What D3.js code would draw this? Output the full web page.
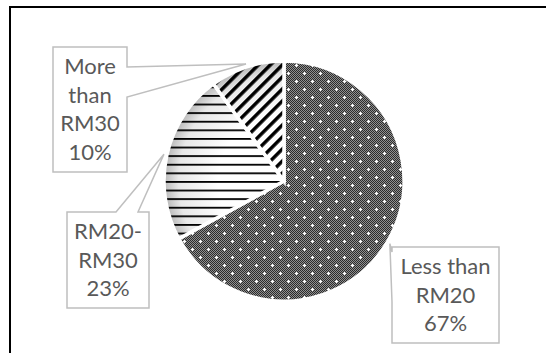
<!DOCTYPE html>
<html>
<head>
<meta charset="utf-8">
<script src="https://cdn.jsdelivr.net/npm/d3@7"></script>
<style>
  html, body { margin: 0; padding: 0; background: #fff; }
  svg { display: block; }
</style>
</head>
<body>
<div id="chart"></div>
<script>
// --- data ---
const categories = ["Less than RM20", "RM20-RM30", "More than RM30"];
const values = [67, 23, 10];
const labelLines = [["Less than", "RM20"], ["RM20-", "RM30"], ["More", "than", "RM30"]];
const fills = ["url(#dots)", "url(#hstripes)", "url(#dstripes)"];

// --- layout ---
const width = 546, height = 353;
const cx = 284, cy = 181, radius = 120;
const lineGap = 28.5;
// callout boxes (x, y, w, h) and which side the pointer leaves from
const boxes = [
  { x: 392, y: 247, w: 107, h: 96, side: "left",  b0: 5,  b1: 55 },
  { x: 67,  y: 212, w: 82,  h: 96, side: "top",   b0: 49, b1: 71 },
  { x: 53,  y: 47,  w: 74,  h: 125, side: "right", b0: 20, b1: 50 }
];
const textColor = "#595959";
const boxStroke = "#bfbfbf";
const fmtPct = d3.format(".0%");

const svg = d3.select("#chart").append("svg")
  .attr("width", width).attr("height", height);

const defs = svg.append("defs");

// dotted checker: dark checker with white plus marks
const tile = 16;
const dots = defs.append("pattern")
  .attr("id", "dots").attr("patternUnits", "userSpaceOnUse")
  .attr("width", tile).attr("height", tile);
dots.append("rect").attr("width", tile).attr("height", tile).attr("fill", "#2b2b2b");
const cells = [];
for (let y = 0; y < tile; y++)
  for (let x = 0; x < tile; x++)
    if ((x + y) % 2 === 0) cells.push([x, y]);
dots.selectAll("rect.c").data(cells).join("rect")
  .attr("class", "c")
  .attr("x", d => d[0]).attr("y", d => d[1])
  .attr("width", 1).attr("height", 1)
  .attr("fill", "#909090")
  .attr("shape-rendering", "crispEdges");
[[4, 4], [12, 12]].forEach(([x, y]) => {
  dots.append("rect").attr("x", x - 1).attr("y", y).attr("width", 3).attr("height", 1).attr("fill", "#fff").attr("shape-rendering", "crispEdges");
  dots.append("rect").attr("x", x).attr("y", y - 1).attr("width", 1).attr("height", 3).attr("fill", "#fff").attr("shape-rendering", "crispEdges");
});

// soft white->grey background behind the line patterns
const grad = defs.append("radialGradient")
  .attr("id", "soft").attr("gradientUnits", "userSpaceOnUse")
  .attr("cx", 0).attr("cy", 0).attr("r", radius);
grad.append("stop").attr("offset", "0.55").attr("stop-color", "#ffffff");
grad.append("stop").attr("offset", "0.88").attr("stop-color", "#e8e8e8");
grad.append("stop").attr("offset", "1").attr("stop-color", "#b8b8b8");

const hs = defs.append("pattern")
  .attr("id", "hstripes").attr("patternUnits", "userSpaceOnUse")
  .attr("width", 20).attr("height", 8.6);
hs.append("rect").attr("y", 0).attr("width", 20).attr("height", 1.8).attr("fill", "#000");

const ds = defs.append("pattern")
  .attr("id", "dstripes").attr("patternUnits", "userSpaceOnUse")
  .attr("width", 8.5).attr("height", 20)
  .attr("patternTransform", "rotate(45)");
ds.append("rect").attr("width", 3.5).attr("height", 20).attr("fill", "#000");

// outer frame (only top/left visible)
svg.append("rect")
  .attr("x", 10).attr("y", 7).attr("width", 700).attr("height", 500)
  .attr("fill", "none").attr("stroke", "#000").attr("stroke-width", 2);

// --- pie ---
const data = categories.map((c, i) => ({ cat: c, value: values[i], lines: labelLines[i], fill: fills[i], box: boxes[i] }));
const total = d3.sum(values);
const pie = d3.pie().sort(null).value(d => d.value);
const arcs = pie(data);
const arc = d3.arc().innerRadius(0).outerRadius(radius);
const tipArc = d3.arc().innerRadius(radius + 3).outerRadius(radius + 3);

const g = svg.append("g").attr("transform", `translate(${cx},${cy})`);

g.selectAll("path.bg")
  .data(arcs.filter((d, i) => i > 0))
  .join("path")
  .attr("class", "bg")
  .attr("d", arc)
  .attr("fill", "url(#soft)");

g.selectAll("path.slice")
  .data(arcs)
  .join("path")
  .attr("class", "slice")
  .attr("d", arc)
  .attr("fill", d => d.data.fill)
  .attr("stroke", "#fff")
  .attr("stroke-width", 3.5)
  .attr("stroke-linejoin", "miter");

// --- callouts ---
function calloutPath(b, t) {
  const { x, y, w, h, b0, b1 } = b;
  if (b.side === "right")
    return `M${x},${y}H${x + w}V${y + b0}L${t[0]},${t[1]}L${x + w},${y + b1}V${y + h}H${x}Z`;
  if (b.side === "top")
    return `M${x},${y}H${x + b0}L${t[0]},${t[1]}L${x + b1},${y}H${x + w}V${y + h}H${x}Z`;
  return `M${x},${y}H${x + w}V${y + h}H${x}V${y + b1}L${t[0]},${t[1]}L${x},${y + b0}Z`;
}

const labels = svg.append("g").attr("class", "labels");
arcs.forEach(a => {
  const b = a.data.box;
  const c = tipArc.centroid(a);
  const tip = [cx + c[0], cy + c[1]];
  labels.append("path")
    .attr("d", calloutPath(b, tip))
    .attr("fill", "#fff")
    .attr("stroke", boxStroke)
    .attr("stroke-width", 1.5)
    .attr("stroke-linejoin", "miter");

  const lines = a.data.lines.concat([fmtPct(a.data.value / total)]);
  const txt = labels.append("text")
    .attr("x", b.x + b.w / 2)
    .attr("text-anchor", "middle")
    .style("font-family", "Lato, 'Open Sans', sans-serif")
    .style("font-size", "22px")
    .attr("fill", textColor);
  lines.forEach((l, i) => {
    txt.append("tspan")
      .attr("x", b.x + b.w / 2)
      .attr("y", b.y + 27 + i * lineGap)
      .text(l);
  });
});
</script>
</body>
</html>
